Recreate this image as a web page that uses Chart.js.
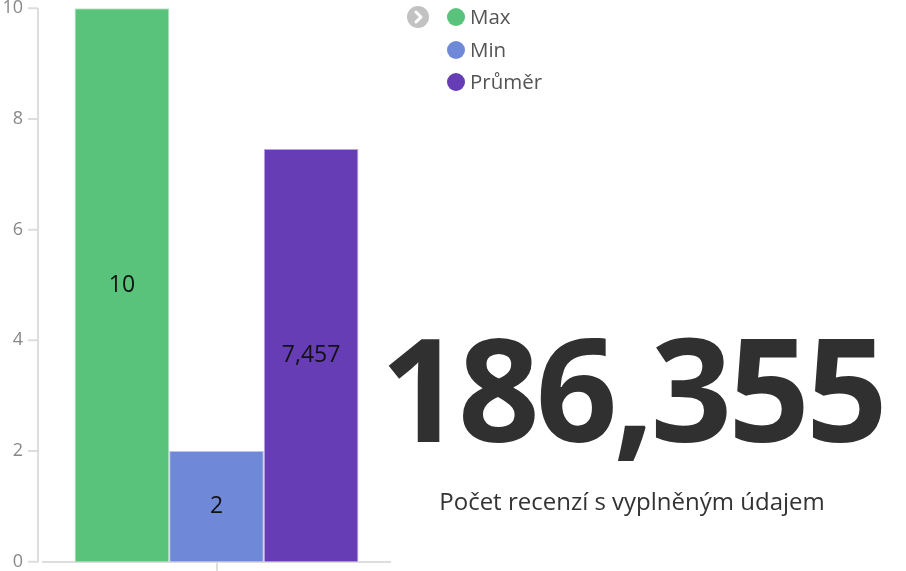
<!DOCTYPE html>
<html>
<head>
<meta charset="utf-8">
<script src="https://cdn.jsdelivr.net/npm/chart.js@4"></script>
<style>
  html, body { margin: 0; padding: 0; background: #fff; }
  #wrap { position: relative; width: 906px; height: 571px; overflow: hidden; font-family: "Open Sans", sans-serif; }
  #c { position: absolute; left: 0; top: -19px; }
  #legend { position: absolute; left: 405px; top: 5px; }
  .arrow { position: absolute; left: 2px; top: 1px; width: 22px; height: 22px; border-radius: 50%; background: #c2c2c2; }
  .arrow svg { position: absolute; left: 0; top: 0; }
  .item { position: absolute; left: 42px; white-space: nowrap; font-size: 20.5px; color: #555; line-height: 24px; }
  .dot { position: absolute; left: 0; top: 3px; width: 18px; height: 18px; border-radius: 50%; }
  .item span.t { position: absolute; left: 23px; top: -1px; }
  #big { position: absolute; left: 0; width: 1264px; text-align: center; top: 302px; font-weight: 700; font-size: 143px; line-height: 170px; color: #303030; letter-spacing: -4px; }
  #sub { position: absolute; left: 0; width: 1264px; text-align: center; top: 485px; font-size: 24px; color: #333; line-height: 32px; }
</style>
</head>
<body>
<div id="wrap">
  <canvas id="c" width="906" height="608"></canvas>
  <div id="legend"></div>
  <div id="big"></div>
  <div id="sub"></div>
</div>
<script>
const categories = [""];
const seriesNames = ["Max", "Min", "Průměr"];
const maxValues = [10];
const minValues = [2];
const avgValues = [7.457];
const yTicks = [0, 2, 4, 6, 8, 10];
const bigNumber = "186,355";
const subtitle = "Počet recenzí s vyplněným údajem";

const fills = ["#59c27b", "#6f88d8", "#663db5"];
const borders = ["#a6e0b8", "#b5c3ee", "#b6a2e0"];
const seriesValues = [maxValues, minValues, avgValues];

const fmt = v => String(v).replace(".", ",");

const labelPlugin = {
  id: "barLabels",
  afterDatasetsDraw(chart) {
    const ctx = chart.ctx;
    ctx.save();
    ctx.font = '23px "Open Sans", sans-serif';
    ctx.fillStyle = "#111";
    ctx.textAlign = "center";
    ctx.textBaseline = "middle";
    chart.data.datasets.forEach((ds, i) => {
      chart.getDatasetMeta(i).data.forEach((bar, j) => {
        const y = (bar.y + bar.base) / 2;
        ctx.fillText(fmt(ds.data[j]), bar.x, y);
      });
    });
    ctx.restore();
  }
};

// y-axis line and tick marks drawn 5px left of the plot area
const yAxisLinePlugin = {
  id: "yAxisLine",
  afterDraw(chart) {
    const ctx = chart.ctx, y = chart.scales.y, a = chart.chartArea;
    const x = a.left - 5;
    ctx.save();
    ctx.strokeStyle = "#ddd";
    ctx.lineWidth = 2;
    ctx.beginPath();
    ctx.moveTo(x, a.top);
    ctx.lineTo(x, a.bottom + 1);
    y.ticks.forEach(t => {
      const py = y.getPixelForValue(t.value);
      ctx.moveTo(x - 10, py);
      ctx.lineTo(x, py);
    });
    ctx.stroke();
    ctx.restore();
  }
};

new Chart(document.getElementById("c"), {
  type: "bar",
  data: {
    labels: categories,
    datasets: seriesNames.map((n, i) => ({
      label: n,
      data: seriesValues[i],
      backgroundColor: fills[i],
      borderColor: borders[i],
      borderWidth: 1,
      barPercentage: 1,
      categoryPercentage: 0.818
    }))
  },
  options: {
    responsive: false,
    animation: false,
    devicePixelRatio: 1,
    layout: { padding: { left: 0, right: 516, top: 0, bottom: 1 } },
    plugins: { legend: { display: false }, tooltip: { enabled: false } },
    scales: {
      x: {
        offset: true,
        grid: { display: true, offset: false, drawOnChartArea: false, drawTicks: true, tickLength: 9, color: "#ddd", lineWidth: 2 },
        border: { display: true, color: "#ddd", width: 2 },
        ticks: { display: false }
      },
      y: {
        min: 0, max: 10,
        afterBuildTicks: axis => { axis.ticks = yTicks.map(v => ({ value: v })); },
        afterFit: axis => { axis.width = 43; },
        grid: { display: false, drawTicks: false },
        border: { display: false },
        ticks: { color: "#888", padding: 20, font: { family: "Open Sans", size: 18, lineHeight: 0.8 } }
      }
    }
  },
  plugins: [labelPlugin, yAxisLinePlugin]
});

// legend
const lg = document.getElementById("legend");
const arrow = document.createElement("div");
arrow.className = "arrow";
arrow.innerHTML = '<svg width="22" height="22"><path d="M9 6 L14 11 L9 16" fill="none" stroke="#fff" stroke-width="3" stroke-linecap="round" stroke-linejoin="round"/></svg>';
lg.appendChild(arrow);
seriesNames.forEach((n, i) => {
  const it = document.createElement("div");
  it.className = "item";
  it.style.top = (i * 32.5) + "px";
  it.innerHTML = '<div class="dot" style="background:' + fills[i] + '"></div><span class="t">' + n + '</span>';
  lg.appendChild(it);
});
document.getElementById("big").textContent = bigNumber;
document.getElementById("sub").textContent = subtitle;
</script>
</body>
</html>
